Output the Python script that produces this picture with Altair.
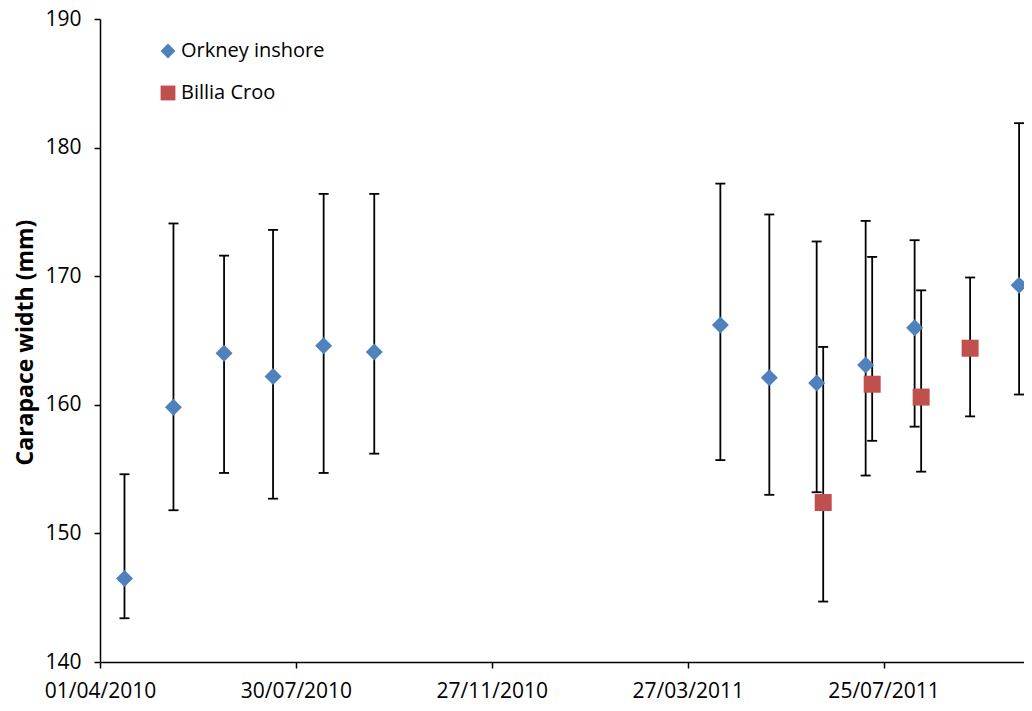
import altair as alt
import pandas as pd

# Orkney inshore
ork_dates = ["2010-04-16", "2010-05-16", "2010-06-16", "2010-07-16", "2010-08-16", "2010-09-16",
             "2011-04-16", "2011-05-16", "2011-06-14", "2011-07-14", "2011-08-13", "2011-10-16"]
ork_mean = [146.5, 159.8, 164.0, 162.2, 164.6, 164.1, 166.2, 162.1, 161.7, 163.1, 166.0, 169.3]
ork_lo = [143.4, 151.8, 154.7, 152.7, 154.7, 156.2, 155.7, 153.0, 153.2, 154.5, 158.3, 160.8]
ork_hi = [154.6, 174.1, 171.6, 173.6, 176.4, 176.4, 177.2, 174.8, 172.7, 174.3, 172.8, 181.9]

# Billia Croo
bc_dates = ["2011-06-18", "2011-07-18", "2011-08-17", "2011-09-16"]
bc_mean = [152.4, 161.6, 160.6, 164.4]
bc_lo = [144.7, 157.2, 154.8, 159.1]
bc_hi = [164.5, 171.5, 168.9, 169.9]

series_names = ["Orkney inshore", "Billia Croo"]
series_colors = ["#4F81BD", "#C0504D"]
series_shapes = ["diamond", "square"]

y_ticks = [140, 150, 160, 170, 180, 190]

ork = pd.DataFrame({"date": ork_dates, "mean": ork_mean, "lo": ork_lo, "hi": ork_hi,
                    "series": series_names[0]})
bc = pd.DataFrame({"date": bc_dates, "mean": bc_mean, "lo": bc_lo, "hi": bc_hi,
                   "series": series_names[1]})
df = pd.concat([ork, bc], ignore_index=True)

FONT = "Open Sans"

x_tick_dates = [(2010, 4, 1), (2010, 7, 30), (2010, 11, 27), (2011, 3, 27), (2011, 7, 25)]

x_enc = alt.X(
    "date:T",
    scale=alt.Scale(
        type="utc",
        domain=[alt.DateTime(year=2010, month=4, date=1, utc=True),
                alt.DateTime(year=2011, month=10, date=19, utc=True)],
        nice=False,
    ),
    axis=alt.Axis(
        values=[alt.DateTime(year=a, month=b, date=c, utc=True) for a, b, c in x_tick_dates],
        labelExpr="utcFormat(datum.value, '%d/%m/%Y')",
        title=None,
        grid=False,
        labelFlush=False,
        labelOverlap=False,
        tickSize=6,
        labelPadding=12,
    ),
)

y_enc_kwargs = dict(
    scale=alt.Scale(domain=[140, 190], nice=False, zero=False),
    axis=alt.Axis(
        values=y_ticks,
        title="Carapace width (mm)",
        grid=False,
        labelFlush=False,
        tickSize=6,
        labelPadding=13,
        titleFontWeight="bold",
        titleFontSize=23,
        titleFont=FONT,
        titleAngle=270,
        titleX=-75,
        titleY=323,
        titleAlign="center",
        titleBaseline="middle",
    ),
)

base = alt.Chart(df)

rules = base.mark_rule(color="black", strokeWidth=1.8).encode(
    x=x_enc,
    y=alt.Y("lo:Q", **y_enc_kwargs),
    y2="hi:Q",
)

cap_lo = base.mark_tick(orient="horizontal", size=10, thickness=1.8, color="black", opacity=1).encode(
    x=x_enc, y=alt.Y("lo:Q")
)
cap_hi = base.mark_tick(orient="horizontal", size=10, thickness=1.8, color="black", opacity=1).encode(
    x=x_enc, y=alt.Y("hi:Q")
)

legend = alt.Legend(
    title=None,
    orient="none",
    legendX=58,
    legendY=22,
    symbolSize=220,
    symbolStrokeWidth=0,
    labelFont=FONT,
    labelFontSize=20,
    labelColor="black",
    labelOffset=3,
    rowPadding=22,
    padding=0,
)

points = base.mark_point(filled=True, size=289, opacity=1, strokeWidth=0).encode(
    x=x_enc,
    y=alt.Y("mean:Q"),
    color=alt.Color("series:N", scale=alt.Scale(domain=series_names, range=series_colors), legend=legend),
    shape=alt.Shape("series:N", scale=alt.Scale(domain=series_names, range=series_shapes), legend=legend),
)

chart = alt.layer(rules, cap_lo, cap_hi, points).properties(
    width=924,
    height=643,
    autosize=alt.AutoSizeParams(type="none"),
    padding={"left": 92, "top": 11, "right": 0, "bottom": 40},
).configure_view(
    stroke=None
).configure_axis(
    domainColor="black",
    domainWidth=1.5,
    tickColor="black",
    tickWidth=1.5,
    labelFont=FONT,
    labelFontSize=21,
    labelColor="black",
    titleColor="black",
)

chart.save("out.html", embed_options={"renderer": "svg", "actions": False})
